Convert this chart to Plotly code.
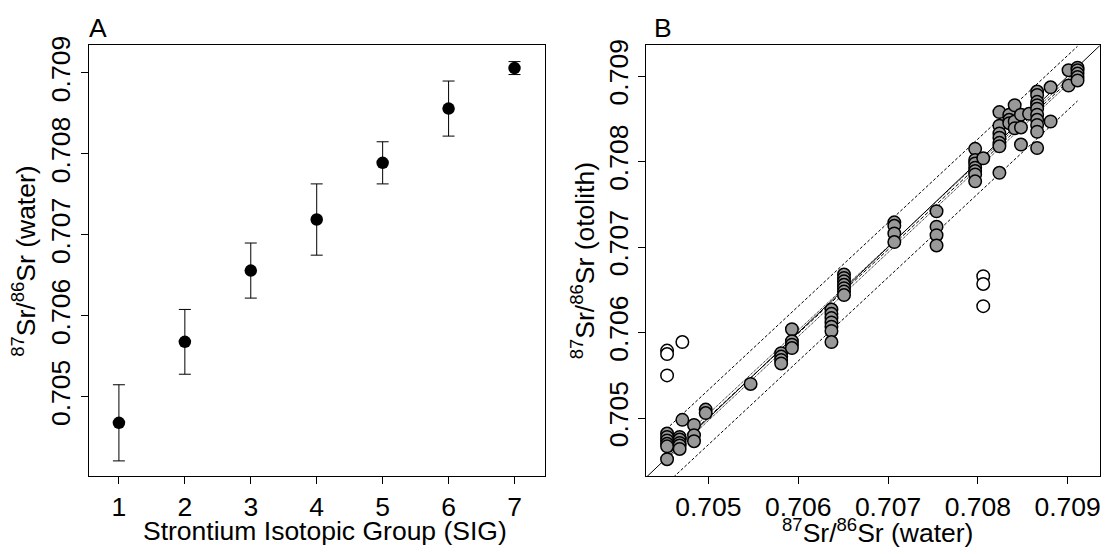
import plotly.graph_objects as go

W, H = 1107, 554

# ---------------- Panel A data ----------------
sig_groups = [1, 2, 3, 4, 5, 6, 7]
sig_mean = [0.70468, 0.70568, 0.70656, 0.70719, 0.70789, 0.70856, 0.70906]
sig_sd = [0.00047, 0.00040, 0.00034, 0.00044, 0.00026, 0.00034, 0.00008]
a_xticks = [1, 2, 3, 4, 5, 6, 7]
a_yticks = [0.705, 0.706, 0.707, 0.708, 0.709]

# ---------------- Panel B data ----------------
water_x = (
    [0.70454] * 6 + [0.70468] * 5 + [0.70471] + [0.70484] * 3 + [0.70497] * 2 +
    [0.70547] + [0.70581] * 4 + [0.70593] * 4 + [0.70637] * 7 + [0.70651] * 7 +
    [0.70707] * 4 + [0.70754] * 4 + [0.70797] * 7 + [0.70806] + [0.70824] * 7 +
    [0.70835] * 3 + [0.70841] * 3 + [0.70848] * 3 + [0.70857] + [0.70866] * 10 +
    [0.70881] * 2 + [0.70901] * 2 + [0.70911] * 5
)
otolith_y = [
    0.70482, 0.70478, 0.70474, 0.70470, 0.70467, 0.70452,
    0.70478, 0.70475, 0.70471, 0.70468, 0.70464,
    0.70498,
    0.70492, 0.70480, 0.70473,
    0.70510, 0.70506,
    0.70540,
    0.70576, 0.70572, 0.70568, 0.70564,
    0.70604, 0.70590, 0.70586, 0.70582,
    0.70627, 0.70622, 0.70617, 0.70612, 0.70607, 0.70602, 0.70589,
    0.70668, 0.70664, 0.70660, 0.70656, 0.70652, 0.70648, 0.70644,
    0.70729, 0.70725, 0.70716, 0.70706,
    0.70742, 0.70724, 0.70714, 0.70702,
    0.70815, 0.70802, 0.70798, 0.70793, 0.70789, 0.70785, 0.70777,
    0.70804,
    0.70858, 0.70842, 0.70833, 0.70828, 0.70822, 0.70818, 0.70787,
    0.70855, 0.70849, 0.70845,
    0.70866, 0.70847, 0.70839,
    0.70855, 0.70840, 0.70820,
    0.70856,
    0.70882, 0.70878, 0.70870, 0.70866, 0.70862, 0.70855, 0.70849, 0.70843, 0.70835, 0.70816,
    0.70887, 0.70847,
    0.70907, 0.70889,
    0.70910, 0.70907, 0.70903, 0.70899, 0.70895,
]
outlier_x = [0.70454, 0.70454, 0.70454, 0.70471, 0.70806, 0.70806, 0.70806]
outlier_y = [0.70579, 0.70575, 0.70550, 0.70589, 0.70666, 0.70657, 0.70631]

# regression and bands (end points)
fit_x = [0.70453, 0.70911]
fit_y = [0.70455, 0.70904]
pi_upper_y = [0.70487, 0.70935]
pi_lower_y = [0.70423, 0.70871]
ci_upper_y = [0.70459, 0.70907]
ci_lower_y = [0.70451, 0.70901]
one_to_one = [0.7040, 0.7096]
b_ticks = [0.705, 0.706, 0.707, 0.708, 0.709]

# ---------------- layout geometry ----------------
def px(x):
    return x / W

def py(y):
    return 1 - y / H

top, bottom = 37, 475
a_left, a_right = 89, 545
b_left, b_right = 647, 1101

FONT = "Liberation Sans, Arial, sans-serif"
FS = 26.5

fig = go.Figure()

# Panel A
fig.add_trace(go.Scatter(
    x=sig_groups, y=sig_mean, mode="markers",
    marker=dict(color="black", size=12.5),
    error_y=dict(type="data", array=sig_sd, visible=True, color="black",
                 thickness=1, width=6),
    xaxis="x", yaxis="y", showlegend=False, cliponaxis=False,
))

# Panel B lines
fig.add_trace(go.Scatter(x=one_to_one, y=one_to_one, mode="lines",
                         line=dict(color="black", width=1),
                         xaxis="x2", yaxis="y2", showlegend=False))
for yy in (pi_upper_y, pi_lower_y):
    fig.add_trace(go.Scatter(x=fit_x, y=yy, mode="lines",
                             line=dict(color="black", width=1, dash="3px,2px"),
                             xaxis="x2", yaxis="y2", showlegend=False))
for yy in (ci_upper_y, ci_lower_y):
    fig.add_trace(go.Scatter(x=fit_x, y=yy, mode="lines",
                             line=dict(color="black", width=1, dash="1px,1px"),
                             xaxis="x2", yaxis="y2", showlegend=False))
fig.add_trace(go.Scatter(x=fit_x, y=fit_y, mode="lines",
                         line=dict(color="black", width=1, dash="4px,2px"),
                         xaxis="x2", yaxis="y2", showlegend=False))

# Panel B points
fig.add_trace(go.Scatter(
    x=water_x, y=otolith_y, mode="markers",
    marker=dict(color="#999999", size=12.5, line=dict(color="black", width=1.5)),
    xaxis="x2", yaxis="y2", showlegend=False,
))
fig.add_trace(go.Scatter(
    x=outlier_x, y=outlier_y, mode="markers",
    marker=dict(color="white", size=12.5, line=dict(color="black", width=1.5)),
    xaxis="x2", yaxis="y2", showlegend=False,
))

axis_common = dict(
    showline=True, linecolor="black", linewidth=1, mirror=True,
    ticks="outside", ticklen=7, tickwidth=1, tickcolor="black",
    showgrid=False, zeroline=False,
    tickfont=dict(family=FONT, size=FS, color="black"),
)

fig.update_layout(
    width=W, height=H,
    margin=dict(l=0, r=0, t=0, b=0),
    paper_bgcolor="white", plot_bgcolor="white",
    xaxis=dict(domain=[px(a_left), px(a_right)], range=[0.545, 7.455],
               tickvals=a_xticks, anchor="y", **axis_common),
    yaxis=dict(domain=[py(bottom), py(top)], range=[0.70402, 0.70934],
               tickvals=a_yticks, tickformat=".3f", tickangle=-90,
               anchor="x", **axis_common),
    xaxis2=dict(domain=[px(b_left), px(b_right)], range=[0.70431, 0.70936],
                tickvals=b_ticks, tickformat=".3f", anchor="y2", **axis_common),
    yaxis2=dict(domain=[py(bottom), py(top)], range=[0.70432, 0.70936],
                tickvals=b_ticks, tickformat=".3f", tickangle=-90,
                anchor="x2", **axis_common),
)

ann_font = dict(family=FONT, size=FS, color="black")
annotations = [
    dict(text="A", x=px(a_left - 2), y=py(19), xanchor="left", yanchor="middle"),
    dict(text="B", x=px(b_left + 6), y=py(19), xanchor="left", yanchor="middle"),
    dict(text="Strontium Isotopic Group (SIG)", x=px((a_left + a_right) / 2 + 8),
         y=py(531), xanchor="center", yanchor="middle"),
    dict(text="<sup>87</sup>Sr/<sup>86</sup>Sr (water)", x=px((b_left + b_right) / 2 + 4),
         y=py(531), xanchor="center", yanchor="middle"),
    dict(text="<sup>87</sup>Sr/<sup>86</sup>Sr (water)", x=px(24),
         y=py((top + bottom) / 2), xanchor="center", yanchor="middle", textangle=-90),
    dict(text="<sup>87</sup>Sr/<sup>86</sup>Sr (otolith)", x=px(583),
         y=py((top + bottom) / 2), xanchor="center", yanchor="middle", textangle=-90),
]
for a in annotations:
    a.update(xref="paper", yref="paper", showarrow=False, font=ann_font)
fig.update_layout(annotations=annotations)

fig.write_html("out.html")
